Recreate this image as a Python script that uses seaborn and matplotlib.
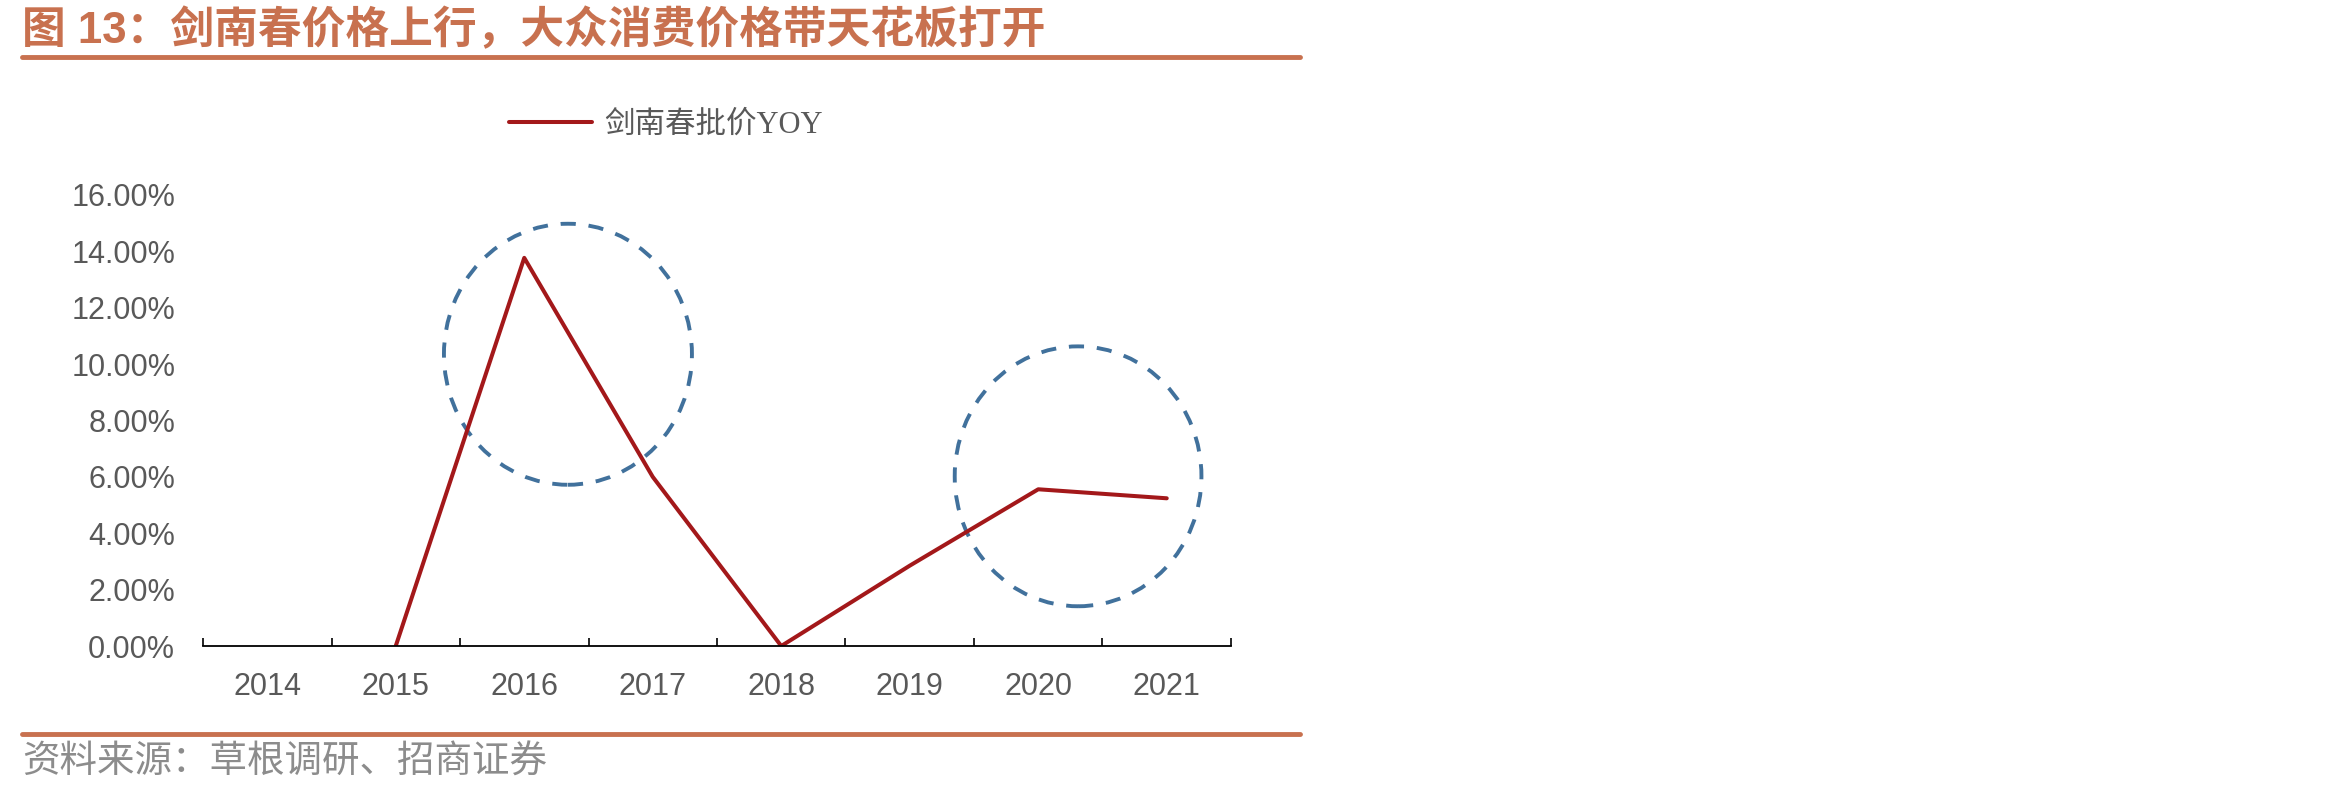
import numpy as np
import pandas as pd
import seaborn as sns
import matplotlib.pyplot as plt
from matplotlib.patches import Ellipse

years = ['2014', '2015', '2016', '2017', '2018', '2019', '2020', '2021']
yoy = [np.nan, 0.0, 0.1377, 0.060, 0.0, 0.0285, 0.0556, 0.0524]
series_name = '剑南春批价YOY'

# highlight circles: (x index, y value, width in categories, height in value)
circle_x = [2.34, 6.31]
circle_y = [0.1035, 0.0602]
circle_w = [1.93, 1.92]
circle_h = [0.0926, 0.0922]

title = '图 13：剑南春价格上行，大众消费价格带天花板打开'
source = '资料来源：草根调研、招商证券'

sns.set_style('white')
plt.rcParams['font.family'] = ['Liberation Sans', 'Noto Sans CJK SC', 'DejaVu Sans']

accent = '#C8714F'
gray = '#595959'

df = pd.DataFrame({'pos': np.arange(len(years)), 'yoy': yoy})

fig = plt.figure(figsize=(23.5, 7.95), dpi=100)
ax = fig.add_axes([203 / 2350, 1 - 646 / 795, 1028 / 2350, 451 / 795])

sns.lineplot(data=df, x='pos', y='yoy', ax=ax, color='#A3181A', lw=2.9,
             label=series_name)

for cx, cy, w, h in zip(circle_x, circle_y, circle_w, circle_h):
    ax.add_patch(Ellipse((cx, cy), w, h, fill=False, edgecolor='#41719C',
                         lw=2.8, linestyle=(0, (3.9, 3.3))))

ax.set_xlim(-0.5, len(years) - 0.5)
ax.set_ylim(0, 0.16)
ax.set_yticks(np.arange(0, 0.161, 0.02))
ax.set_yticklabels(['%.2f%%' % (v * 100) for v in np.arange(0, 0.161, 0.02)])
ax.set_xticks(np.arange(-0.5, len(years), 1.0))
ax.set_xticklabels([])
ax.set_xticks(np.arange(len(years)), minor=True)
ax.set_xticklabels(years, minor=True)
ax.tick_params(axis='x', which='major', direction='in', length=6, width=1.2,
               color='black', bottom=True)
ax.tick_params(axis='x', which='minor', length=0, pad=19, labelsize=22,
               labelcolor=gray)
ax.tick_params(axis='y', length=0, pad=20, labelsize=22, labelcolor=gray)
ax.set_xlabel('')
ax.set_ylabel('')
for side in ['left', 'right', 'top']:
    ax.spines[side].set_visible(False)
ax.spines['bottom'].set_color('black')
ax.spines['bottom'].set_linewidth(1.3)

leg = ax.legend(loc='center', bbox_to_anchor=(666 / 2350, 1 - 125 / 795),
                bbox_transform=fig.transFigure, frameon=False,
                handlelength=2.7, handletextpad=0.4,
                prop={'family': ['Liberation Serif', 'Noto Sans CJK SC'], 'size': 22})
for t in leg.get_texts():
    t.set_color(gray)

fig.text(22 / 2350, 1 - 31 / 795, title, color=accent, fontsize=31.5,
         fontweight='bold', va='center', ha='left',
         family=['Liberation Sans', 'Noto Sans CJK SC'])
fig.add_artist(plt.Line2D([22 / 2350, 1300 / 2350], [1 - 57 / 795] * 2,
                          color=accent, lw=3.5))
fig.add_artist(plt.Line2D([22 / 2350, 1300 / 2350], [1 - 734 / 795] * 2,
                          color=accent, lw=3.5))
fig.text(22 / 2350, 1 - 762 / 795, source, color='#8C8C8C', fontsize=27,
         va='center', ha='left', family=['Noto Sans CJK SC'], fontweight='light')

fig.savefig('out.png', dpi=100)
